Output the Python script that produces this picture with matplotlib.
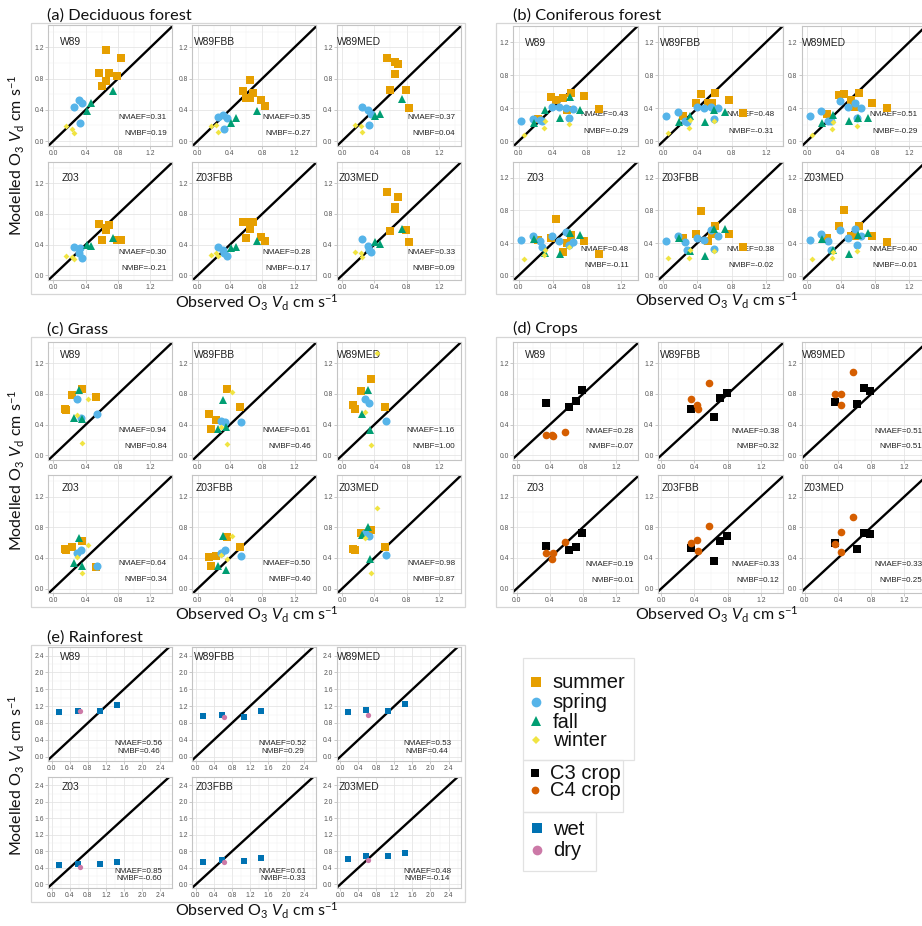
import matplotlib
matplotlib.use("Agg")
import matplotlib.pyplot as plt
from matplotlib.patches import Rectangle
from matplotlib.lines import Line2D
import numpy as np

plt.rcParams['font.family'] = ['Liberation Sans', 'DejaVu Sans']
plt.rcParams['mathtext.fontset'] = 'custom'
plt.rcParams['mathtext.rm'] = 'Lato'
plt.rcParams['mathtext.it'] = 'Lato:italic'

# ---------------- DATA ----------------
models = ["W89", "W89FBB", "W89MED", "Z03", "Z03FBB", "Z03MED"]

# (a) Deciduous forest
dec_obs_summer = [0.56, 0.60, 0.65, 0.65, 0.69, 0.79, 0.83]
dec_mod_summer = {
    "W89":    [0.87, 0.70, 1.17, 0.77, 0.87, 0.83, 1.06],
    "W89FBB": [0.64, 0.55, 0.78, 0.55, 0.62, 0.53, 0.45],
    "W89MED": [1.06, 0.66, 1.01, 0.86, 0.99, 0.66, 0.42],
    "Z03":    [0.67, 0.46, 0.59, 0.62, 0.65, 0.46, 0.46],
    "Z03FBB": [0.70, 0.49, 0.70, 0.60, 0.69, 0.50, 0.45],
    "Z03MED": [1.09, 0.58, 0.89, 0.86, 1.02, 0.59, 0.44],
}
dec_obs_spring = [0.25, 0.32, 0.33, 0.36]
dec_mod_spring = {
    "W89":    [0.43, 0.53, 0.23, 0.49],
    "W89FBB": [0.31, 0.33, 0.16, 0.30],
    "W89MED": [0.44, 0.40, 0.20, 0.35],
    "Z03":    [0.37, 0.29, 0.36, 0.22],
    "Z03FBB": [0.37, 0.33, 0.29, 0.25],
    "Z03MED": [0.48, 0.38, 0.33, 0.30],
}
dec_obs_fall = [0.41, 0.47, 0.74]
dec_mod_fall = {
    "W89":    [0.39, 0.49, 0.64],
    "W89FBB": [0.23, 0.29, 0.38],
    "W89MED": [0.32, 0.34, 0.54],
    "Z03":    [0.40, 0.38, 0.49],
    "Z03FBB": [0.36, 0.37, 0.45],
    "Z03MED": [0.43, 0.41, 0.60],
}
dec_obs_winter = [0.16, 0.23, 0.25]
dec_mod_winter = {
    "W89":    [0.19, 0.16, 0.10],
    "W89FBB": [0.19, 0.20, 0.11],
    "W89MED": [0.21, 0.19, 0.11],
    "Z03":    [0.25, 0.24, 0.21],
    "Z03FBB": [0.27, 0.29, 0.25],
    "Z03MED": [0.30, 0.29, 0.24],
}
dec_nmaef = ["0.31", "0.35", "0.37", "0.30", "0.28", "0.33"]
dec_nmbf = ["0.19", "-0.27", "0.04", "-0.21", "-0.17", "0.09"]

# (b) Coniferous forest
con_obs_summer = [0.23, 0.38, 0.44, 0.52, 0.57, 0.61, 0.77, 0.94]
con_mod_summer = {
    "W89":    [0.27, 0.54, 0.50, 0.52, 0.38, 0.59, 0.55, 0.39],
    "W89FBB": [0.31, 0.46, 0.57, 0.46, 0.46, 0.58, 0.50, 0.34],
    "W89MED": [0.33, 0.56, 0.57, 0.50, 0.41, 0.59, 0.47, 0.40],
    "Z03":    [0.44, 0.46, 0.69, 0.29, 0.40, 0.50, 0.42, 0.27],
    "Z03FBB": [0.46, 0.51, 0.79, 0.42, 0.51, 0.61, 0.51, 0.35],
    "Z03MED": [0.46, 0.61, 0.80, 0.49, 0.49, 0.61, 0.49, 0.41],
}
con_obs_spring = [0.03, 0.17, 0.25, 0.28, 0.39, 0.48, 0.56, 0.59, 0.64]
con_mod_spring = {
    "W89":    [0.24, 0.27, 0.26, 0.24, 0.42, 0.42, 0.40, 0.28, 0.39],
    "W89FBB": [0.30, 0.35, 0.24, 0.23, 0.41, 0.40, 0.41, 0.27, 0.40],
    "W89MED": [0.31, 0.37, 0.24, 0.25, 0.49, 0.42, 0.46, 0.28, 0.40],
    "Z03":    [0.44, 0.49, 0.43, 0.35, 0.49, 0.42, 0.53, 0.37, 0.41],
    "Z03FBB": [0.43, 0.49, 0.41, 0.32, 0.46, 0.44, 0.56, 0.33, 0.49],
    "Z03MED": [0.44, 0.51, 0.42, 0.32, 0.56, 0.46, 0.57, 0.37, 0.49],
}
con_obs_fall = [0.18, 0.31, 0.49, 0.60, 0.72]
con_mod_fall = {
    "W89":    [0.22, 0.38, 0.28, 0.54, 0.38],
    "W89FBB": [0.23, 0.30, 0.23, 0.38, 0.36],
    "W89MED": [0.22, 0.32, 0.24, 0.28, 0.28],
    "Z03":    [0.45, 0.28, 0.26, 0.52, 0.50],
    "Z03FBB": [0.46, 0.30, 0.24, 0.57, 0.57],
    "Z03MED": [0.45, 0.32, 0.26, 0.50, 0.52],
}
con_obs_winter = [0.06, 0.30, 0.31, 0.59]
con_mod_winter = {
    "W89":    [0.07, 0.16, 0.25, 0.21],
    "W89FBB": [0.10, 0.16, 0.26, 0.25],
    "W89MED": [0.08, 0.15, 0.23, 0.19],
    "Z03":    [0.20, 0.25, 0.31, 0.35],
    "Z03FBB": [0.21, 0.21, 0.31, 0.30],
    "Z03MED": [0.20, 0.21, 0.29, 0.30],
}
con_nmaef = ["0.43", "0.48", "0.51", "0.48", "0.38", "0.40"]
con_nmbf = ["-0.29", "-0.31", "-0.29", "-0.11", "-0.02", "-0.01"]

# (c) Grass
gra_obs_summer = [0.14, 0.16, 0.23, 0.36, 0.53]
gra_mod_summer = {
    "W89":    [0.60, 0.59, 0.78, 0.86, 0.76],
    "W89FBB": [0.54, 0.34, 0.46, 0.86, 0.63],
    "W89MED": [0.66, 0.60, 0.84, 1.00, 0.63],
    "Z03":    [0.52, 0.50, 0.54, 0.62, 0.28],
    "Z03FBB": [0.41, 0.29, 0.43, 0.67, 0.54],
    "Z03MED": [0.52, 0.51, 0.72, 0.77, 0.54],
}
gra_obs_spring = [0.29, 0.34, 0.54]
gra_mod_spring = {
    "W89":    [0.73, 0.49, 0.54],
    "W89FBB": [0.45, 0.43, 0.43],
    "W89MED": [0.74, 0.68, 0.45],
    "Z03":    [0.46, 0.51, 0.29],
    "Z03FBB": [0.46, 0.50, 0.43],
    "Z03MED": [0.72, 0.69, 0.44],
}
gra_obs_fall = [0.25, 0.32, 0.35]
gra_mod_fall = {
    "W89":    [0.49, 0.85, 0.48],
    "W89FBB": [0.34, 0.72, 0.37],
    "W89MED": [0.54, 0.85, 0.33],
    "Z03":    [0.33, 0.66, 0.30],
    "Z03FBB": [0.30, 0.69, 0.24],
    "Z03MED": [0.70, 0.80, 0.38],
}
gra_obs_winter = [0.29, 0.36, 0.43]
gra_mod_winter = {
    "W89":    [0.53, 0.16, 0.73],
    "W89FBB": [0.37, 0.15, 0.82],
    "W89MED": [0.57, 0.13, 1.33],
    "Z03":    [0.41, 0.20, 0.57],
    "Z03FBB": [0.44, 0.39, 0.69],
    "Z03MED": [0.66, 0.20, 1.05],
}
gra_nmaef = ["0.94", "0.61", "1.16", "0.64", "0.50", "0.98"]
gra_nmbf = ["0.84", "0.46", "1.00", "0.34", "0.40", "0.87"]

# (d) Crops
crp_obs_c3 = [0.36, 0.63, 0.71, 0.79]
crp_mod_c3 = {
    "W89":    [0.68, 0.63, 0.71, 0.85],
    "W89FBB": [0.60, 0.50, 0.75, 0.81],
    "W89MED": [0.69, 0.67, 0.88, 0.84],
    "Z03":    [0.56, 0.50, 0.54, 0.72],
    "Z03FBB": [0.53, 0.36, 0.62, 0.68],
    "Z03MED": [0.60, 0.52, 0.72, 0.71],
}
crp_obs_c4 = [0.36, 0.43, 0.44, 0.58]
crp_mod_c4 = {
    "W89":    [0.27, 0.26, 0.25, 0.30],
    "W89FBB": [0.74, 0.66, 0.60, 0.94],
    "W89MED": [0.80, 0.80, 0.66, 1.08],
    "Z03":    [0.47, 0.38, 0.47, 0.61],
    "Z03FBB": [0.60, 0.64, 0.49, 0.82],
    "Z03MED": [0.58, 0.74, 0.48, 0.93],
}
crp_nmaef = ["0.28", "0.38", "0.51", "0.19", "0.33", "0.33"]
crp_nmbf = ["-0.07", "0.32", "0.51", "0.01", "0.12", "0.25"]

# (e) Rainforest
rai_obs_wet = [0.16, 0.58, 1.06, 1.44]
rai_mod_wet = {
    "W89":    [1.05, 1.09, 1.09, 1.22],
    "W89FBB": [0.97, 0.98, 0.95, 1.09],
    "W89MED": [1.05, 1.10, 1.08, 1.24],
    "Z03":    [0.46, 0.50, 0.50, 0.54],
    "Z03FBB": [0.55, 0.58, 0.57, 0.63],
    "Z03MED": [0.62, 0.68, 0.70, 0.77],
}
rai_obs_dry = [0.62]
rai_mod_dry = {
    "W89": [1.08], "W89FBB": [0.94], "W89MED": [0.99],
    "Z03": [0.42], "Z03FBB": [0.55], "Z03MED": [0.59],
}
rai_nmaef = ["0.56", "0.52", "0.53", "0.85", "0.61", "0.48"]
rai_nmbf = ["0.46", "0.29", "0.44", "-0.60", "-0.33", "-0.14"]

season_labels = ["summer", "spring", "fall", "winter"]
crop_labels = ["C3 crop", "C4 crop"]
rain_labels = ["wet", "dry"]

# ---------------- STYLE ----------------
C_SUM, C_SPR, C_FAL, C_WIN = "#E69F00", "#56B4E9", "#009E73", "#F0E442"
C_C3, C_C4 = "#000000", "#D55E00"
C_WET, C_DRY = "#0072B2", "#CC79A7"

W, H = 922, 926
fig = plt.figure(figsize=(W / 100, H / 100), dpi=100)
fig.patch.set_facecolor("white")

def add_ax(l, t, r, b):
    return fig.add_axes([l / W, 1 - b / H, (r - l) / W, (b - t) / H])

TITLE_FONT = ['Lato', 'DejaVu Sans']
XLAB = r"Observed O$_3$ $V_\mathrm{d}$ cm s$^{-1}$"
YLAB = r"Modelled O$_3$ $V_\mathrm{d}$ cm s$^{-1}$"

# overlay axes in pixel units for decorations
deco = fig.add_axes([0, 0, 1, 1], zorder=-5)
deco.set_xlim(0, W); deco.set_ylim(H, 0); deco.axis("off")
deco2 = fig.add_axes([0, 0, 1, 1], zorder=10)
deco2.set_xlim(0, W); deco2.set_ylim(H, 0); deco2.axis("off")

def setup(ax, xlim, ylim, tmax, name, nmaef, nmbf, lab_y, st, center_stats=False):
    ax.set_xlim(xlim); ax.set_ylim(ylim)
    major = np.round(np.arange(0, tmax + 0.01, 0.4), 1)
    minor = np.round(np.arange(0.2, tmax + 0.3, 0.4), 1)
    ax.set_xticks(major); ax.set_yticks(major)
    ax.set_xticks(minor, minor=True); ax.set_yticks(minor, minor=True)
    ax.set_xticklabels([f"{v:.1f}" for v in major])
    ax.set_yticklabels([f"{v:.1f}" for v in major])
    ax.grid(which="major", color="#E3E3E3", lw=0.55)
    ax.grid(which="minor", color="#F1F1F1", lw=0.35)
    ax.set_axisbelow(True)
    for s in ax.spines.values():
        s.set_color("#C4C4C4"); s.set_linewidth(0.8)
    ax.tick_params(which="major", labelsize=4.9, labelcolor="#555555", length=2,
                   width=0.5, color="#B3B3B3", pad=1)
    ax.tick_params(which="minor", length=0)
    ax.axline((0, 0), slope=1, color="black", lw=1.7, zorder=2)
    ax.text(0.18, lab_y, name, transform=ax.transAxes, ha="center", va="center",
            fontsize=7.4, color="#222222")
    ha = "center" if center_stats else "right"
    ax.text(st[0], st[1], f"NMAEF={nmaef}", transform=ax.transAxes, ha=ha,
            va="center", fontsize=5.8, color="#222222")
    ax.text(st[0], st[2], f"NMBF={nmbf}", transform=ax.transAxes, ha=ha,
            va="center", fontsize=5.8, color="#222222")

def pts(ax, obs, mod, marker, color, ms):
    ax.plot(obs, mod, linestyle="none", marker=marker, color=color, ms=ms,
            markeredgewidth=0, zorder=3, clip_on=True)

colsL = [(48, 172.3), (192.3, 316.3), (336.7, 460.7)]
colsR = [(513.3, 637.7), (657.8, 782.8), (801.6, 926.0)]

def panel(cols, rows, letter_title, title_xy, rect, xlim, ylim, tmax, series, nmaef, nmbf,
          lab_y, st, ylab_xy, xlab_xy, center_stats=False):
    deco.add_patch(Rectangle((rect[0], rect[1]), rect[2] - rect[0], rect[3] - rect[1],
                             fill=False, ec="#D6D6D6", lw=0.9))
    deco2.text(title_xy[0], title_xy[1], letter_title, ha="left", va="baseline",
               fontsize=11.8, family=TITLE_FONT, color="#111111")
    k = 0
    for (t, b) in rows:
        for (l, r) in cols:
            ax = add_ax(l, t, r, b)
            m = models[k]
            setup(ax, xlim, ylim, tmax, m, nmaef[k], nmbf[k], lab_y, st, center_stats)
            for obs, mod, marker, color, ms in series:
                pts(ax, obs, mod[m], marker, color, ms)
            k += 1
    if ylab_xy is not None:
        deco2.text(ylab_xy[0], ylab_xy[1], YLAB, rotation=90, ha="center", va="center",
                   fontsize=11.5, family=TITLE_FONT, color="#111111")
    deco2.text(xlab_xy[0], xlab_xy[1], XLAB, ha="center", va="baseline",
               fontsize=11.5, family=TITLE_FONT, color="#111111")

def season_series(o1, m1, o2, m2, o3, m3, o4, m4):
    return [
        (o1, m1, "s", C_SUM, 5.7),
        (o2, m2, "o", C_SPR, 5.8),
        (o3, m3, "^", C_FAL, 6.4),
        (o4, m4, "D", C_WIN, 3.0),
    ]

# (a)
panel(colsL, [(25.5, 145.7), (161.7, 280.0)], "(a) Deciduous forest", (46.7, 20),
      (30.7, 23.3, 465, 294), (-0.066, 1.47), (-0.06, 1.48), 1.2,
      season_series(dec_obs_summer, dec_mod_summer, dec_obs_spring, dec_mod_spring,
                    dec_obs_fall, dec_mod_fall, dec_obs_winter, dec_mod_winter),
      dec_nmaef, dec_nmbf, 0.86, (0.955, 0.235, 0.10), (17, 155), (257, 308))
# (b)
panel(colsR, [(26.0, 145.7), (161.7, 280.0)], "(b) Coniferous forest", (512.7, 20),
      (496, 23.3, 935, 294), (-0.063, 1.245), (-0.055, 1.27), 1.2,
      season_series(con_obs_summer, con_mod_summer, con_obs_spring, con_mod_spring,
                    con_obs_fall, con_mod_fall, con_obs_winter, con_mod_winter),
      con_nmaef, con_nmbf, 0.86, (0.93, 0.26, 0.12), None, (717, 306))
# (c)
panel(colsL, [(341.7, 460.0), (475.0, 593.3)], "(c) Grass", (46.7, 333.5),
      (30.7, 337, 465, 606.7), (-0.066, 1.47), (-0.06, 1.48), 1.2,
      season_series(gra_obs_summer, gra_mod_summer, gra_obs_spring, gra_mod_spring,
                    gra_obs_fall, gra_mod_fall, gra_obs_winter, gra_mod_winter),
      gra_nmaef, gra_nmbf, 0.89, (0.955, 0.248, 0.113), (17, 470), (257, 620))
# (d)
panel(colsR, [(341.7, 460.0), (475.0, 593.3)], "(d) Crops", (512.7, 333.5),
      (496, 337, 935, 606.7), (-0.04, 1.46), (-0.06, 1.48), 1.2,
      [(crp_obs_c3, crp_mod_c3, "s", C_C3, 5.2), (crp_obs_c4, crp_mod_c4, "o", C_C4, 5.5)],
      crp_nmaef, crp_nmbf, 0.89, (0.97, 0.24, 0.11), None, (717, 620))
# (e)
panel(colsL, [(646.7, 760.7), (776.7, 888.3)], "(e) Rainforest", (46.7, 641.7),
      (30.7, 645, 465, 901.7), (-0.08, 2.67), (-0.095, 2.61), 2.4,
      [(rai_obs_wet, rai_mod_wet, "s", C_WET, 4.4), (rai_obs_dry, rai_mod_dry, "o", C_DRY, 3.8)],
      rai_nmaef, rai_nmbf, 0.91, (0.73, 0.152, 0.085), (17, 775), (257, 916),
      center_stats=True)

# ---------------- LEGEND ----------------
for (l, t, r, b) in [(523.3, 658.3, 634.3, 760), (523.3, 760, 622.7, 812), (522.7, 812, 596, 870.7)]:
    deco.add_patch(Rectangle((l, t), r - l, b - t, fill=False, ec="#E2E2E2", lw=0.9))

leg_items = [
    (season_labels[0], "s", C_SUM, 6.7, 535.7, 681.7, 552.7),
    (season_labels[1], "o", C_SPR, 7.0, 535.7, 701.7, 552.7),
    (season_labels[2], "^", C_FAL, 7.6, 535.7, 721.0, 552.7),
    (season_labels[3], "D", C_WIN, 4.3, 535.7, 740.0, 552.7),
    (crop_labels[0], "s", C_C3, 5.3, 535.0, 772.7, 550.0),
    (crop_labels[1], "o", C_C4, 5.6, 535.0, 790.0, 550.0),
    (rain_labels[0], "s", C_WET, 6.8, 536.7, 828.3, 553.0),
    (rain_labels[1], "o", C_DRY, 7.0, 536.7, 850.0, 553.0),
]
for lab, mk, col, ms, mx, my, tx in leg_items:
    deco2.add_line(Line2D([mx], [my], marker=mk, color=col, ms=ms, markeredgewidth=0,
                          linestyle="none"))
    deco2.text(tx, my + 1, lab, ha="left", va="center", fontsize=14.5, color="#111111")

fig.savefig("out.png", dpi=100, facecolor="white")
